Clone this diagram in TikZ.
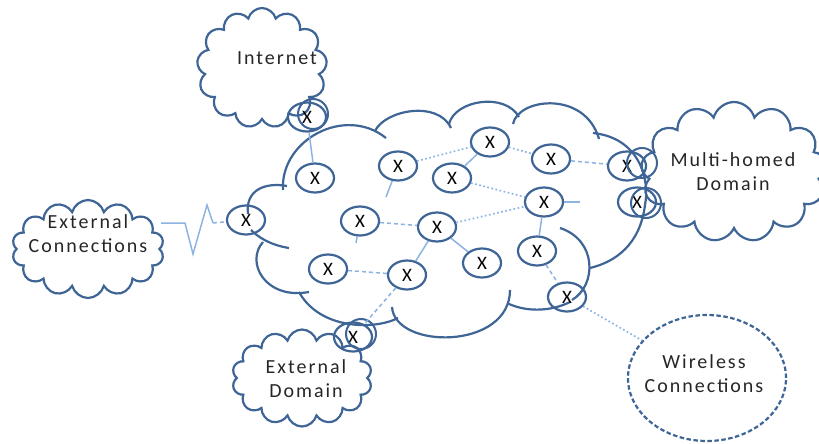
\documentclass[tikz,border=0pt]{standalone}
\usepackage{fontspec}
\setmainfont{Carlito}[LetterSpace=10]
\newfontfamily\xfont{Carlito}
\usetikzlibrary{shapes.symbols,shapes.geometric}
\definecolor{cdark}{RGB}{62,101,150}
\definecolor{clight}{RGB}{141,179,226}
\tikzset{
  outl/.style={draw=cdark, line width=2.2pt},
  cl/.style={cloud, draw=cdark, line width=2.2pt, cloud puffs=#1, cloud ignores aspect, inner sep=0pt},
  jn/.style={ellipse, draw=cdark, line width=2.2pt, minimum width=38pt, minimum height=29pt, inner sep=0pt, font=\xfont\fontsize{19}{19}\selectfont},
  jx/.style={ellipse, draw=cdark, line width=2pt, minimum width=30pt, minimum height=30pt, inner sep=0pt},
  lbl/.style={align=center, font=\fontsize{20}{24}\selectfont, text=black!85},
  solidlink/.style={draw=clight, line width=1.5pt},
  dotlink/.style={draw=clight, line width=1.7pt, dash pattern=on 1.7pt off 2.5pt},
  dashlink/.style={draw=clight, line width=1.5pt, dash pattern=on 4pt off 3pt},
}
\begin{document}
\begin{tikzpicture}[x=1pt,y=-1pt]
\useasboundingbox (0,0) rectangle (819,444);

% main cloud outline
\draw[outl] (248,214) .. controls (245,190) and (265,182) .. (287,186);
\draw[outl] (283,190) .. controls (280,140) and (345,105) .. (386,138);
\draw[outl] (375,131) .. controls (385,110) and (438,100) .. (451,128);
\draw[outl] (449,124) .. controls (455,100) and (505,92) .. (519,117);
\draw[outl] (513,124) .. controls (518,98) and (585,90) .. (599,139);
\draw[outl] (593,133) .. controls (640,138) and (650,180) .. (645,205) .. controls (640,245) and (615,262) .. (590,268);
\draw[outl] (560,228) .. controls (597,240) and (597,285) .. (572,300);
\draw[outl] (570,302) .. controls (550,312) and (525,312) .. (507,303);
\draw[outl] (510,290) .. controls (510,350) and (395,350) .. (392,307);
\draw[outl] (398,318) .. controls (375,330) and (320,330) .. (299,292);
\draw[outl] (309,292) .. controls (265,300) and (245,262) .. (263,242);
\draw[outl] (251,230) .. controls (258,237) and (270,245) .. (289,248);

% outer clouds
\node[cl=13, minimum width=130pt, minimum height=120pt] (inet) at (262,68) {};
\node[cl=14, minimum width=152pt, minimum height=98pt] (extc) at (88,249) {};
\node[cl=14, minimum width=140pt, minimum height=97pt] (extd) at (302,378) {};
\node[cl=13, minimum width=186pt, minimum height=140pt] (mh) at (734,172) {};
\node[ellipse, draw=cdark, line width=2.2pt, dash pattern=on 4.5pt off 2.5pt, minimum width=158pt, minimum height=126pt] (wl) at (707,378) {};

\node[lbl] (tinet) at (277,58) {Internet};
\node[lbl] (textc) at (88,234) {External\\Connections};
\node[lbl] (textd) at (306,379) {External\\Domain};
\node[lbl] (tmh) at (733,172) {Multi-homed\\Domain};
\node[lbl] (twl) at (704,374) {Wireless\\Connections};

% junctions
\node[jn] (j1) at (307,117) {X};
\node[jx] (j1b) at (313,114) {};
\node[jn] (j2) at (315,178) {X};
\node[jn] (j3) at (398,166) {X};
\node[jn] (j4) at (452,178) {X};
\node[jn] (j5) at (490,142) {X};
\node[jn] (j6) at (551,159) {X};
\node[jn] (j7) at (627,166) {X};
\node[jx] (j7b) at (642,163) {};
\node[jn] (j8) at (637,202) {X};
\node[jx] (j8b) at (646,203) {};
\node[jn] (j9) at (544,202) {X};
\node[jn] (j10) at (246,220) {X};
\node[jn] (j11) at (360,221) {X};
\node[jn] (j12) at (437,227) {X};
\node[jn] (j13) at (537,251) {X};
\node[jn] (j14) at (482,263) {X};
\node[jn] (j15) at (328,269) {X};
\node[jn] (j16) at (407,275) {X};
\node[jn] (j17) at (567,297) {X};
\node[jn] (j18) at (353,337) {X};
\node[jx] (j18b) at (361,334) {};

% stubs
\coordinate (s3) at (386,197);
\coordinate (s9) at (580,202);
\coordinate (s11) at (356,243);

% connectors
\draw[solidlink] (j1) -- (j2);
\draw[dotlink] (j3) -- (j5);
\draw[solidlink] (j5) -- (j4);
\draw[dotlink] (j5) -- (j6);
\draw[dotlink] (j4) -- (j9);
\draw[dotlink] (j12) -- (j9);
\draw[dashlink] (j11) -- (j12);
\draw[solidlink] (j12) -- (j16);
\draw[solidlink] (j12) -- (j14);
\draw[dashlink] (j15) -- (j16);
\draw[dashlink] (j16) -- (j18);
\draw[dashlink] (j6) -- (j7);
\draw[solidlink] (j9) -- (j13);
\draw[dashlink] (j13) -- (j17);
\draw[dotlink] (j17) -- (wl);
\draw[solidlink] (j3) -- (s3);
\draw[solidlink] (j9) -- (s9);
\draw[solidlink] (j11) -- (s11);

% zigzag to external connections
\coordinate (z0) at (161,223);
\coordinate (z1) at (185,223);
\coordinate (z2) at (193,254);
\coordinate (z3) at (207,205);
\coordinate (z4) at (213,223);
\draw[solidlink] (z0) -- (z1) -- (z2) -- (z3) -- (z4);
\draw[dashlink] (z4) -- (j10);
\end{tikzpicture}
\end{document}
